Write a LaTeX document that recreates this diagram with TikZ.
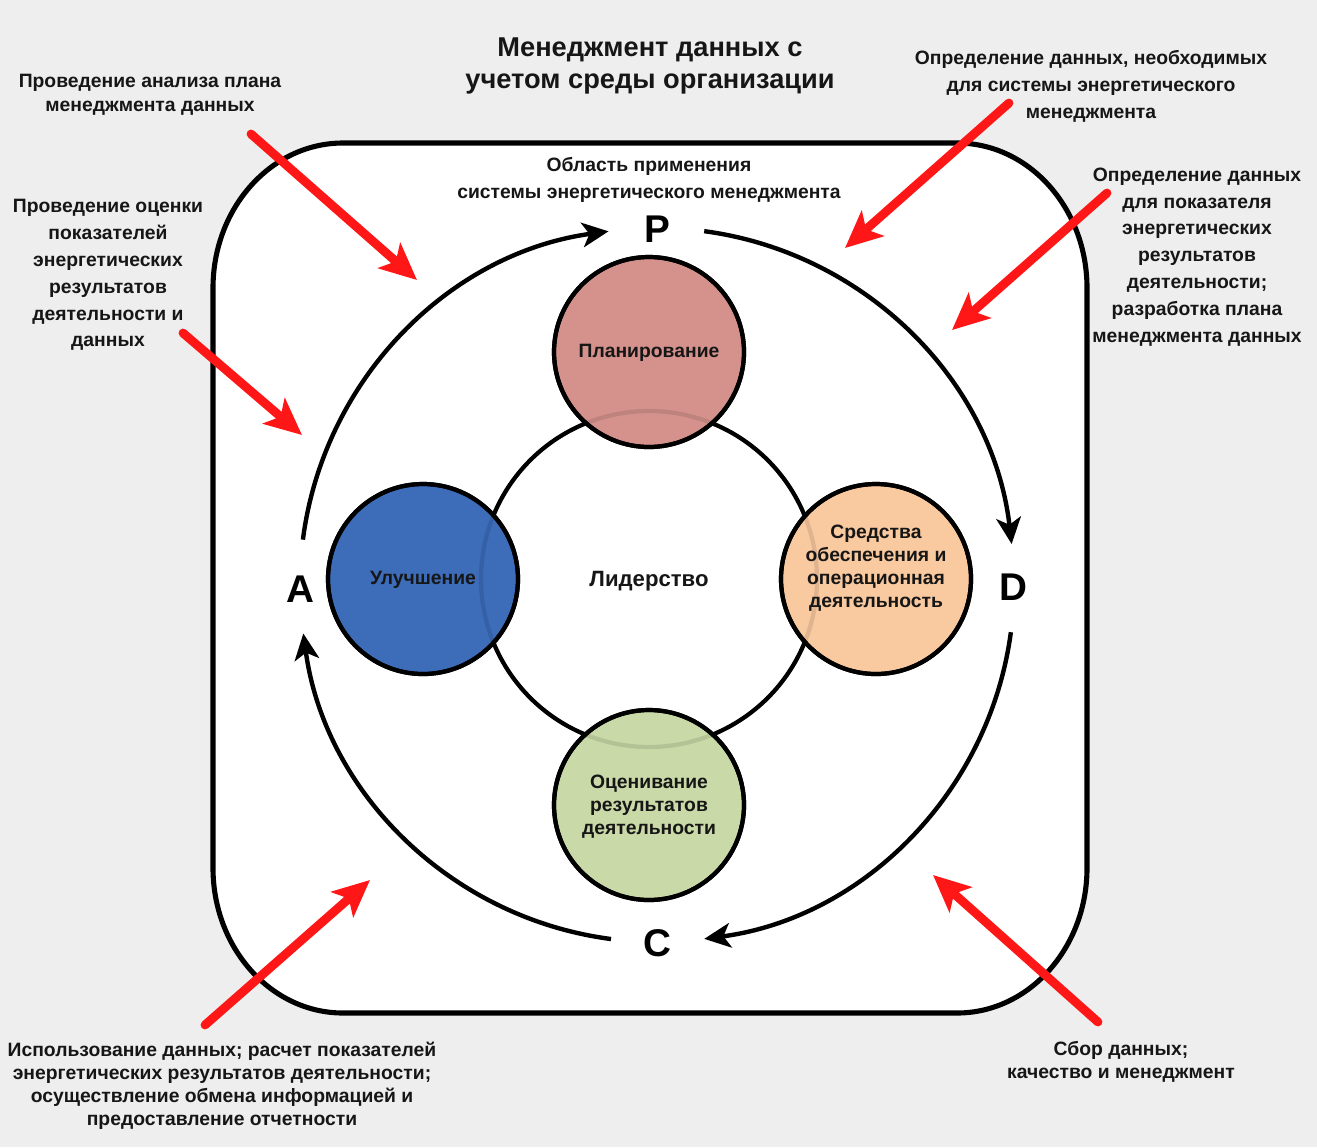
\documentclass[tikz,border=0pt]{standalone}
\usepackage{fontspec}
\setmainfont{Liberation Sans}
\usetikzlibrary{arrows.meta}
\definecolor{bg}{RGB}{238,238,238}
\definecolor{planc}{RGB}{213,146,140}
\definecolor{imprc}{RGB}{61,108,185}
\definecolor{sredc}{RGB}{249,201,160}
\definecolor{ocenc}{RGB}{201,217,167}
\definecolor{ared}{RGB}{255,22,22}
\definecolor{ink}{RGB}{22,22,22}
\begin{document}
\begin{tikzpicture}[x=0.02cm,y=-0.02cm,
  lbl/.style={font=\bfseries\fontsize{11}{15.3}\selectfont, align=center, text=ink, inner sep=0pt},
  lbltight/.style={font=\bfseries\fontsize{11}{13.6}\selectfont, align=center, text=ink, inner sep=0pt},
  lblc/.style={font=\bfseries\fontsize{11}{13.1}\selectfont, align=center, text=ink, inner sep=0pt},
  ttl/.style={font=\bfseries\fontsize{15.5}{18.7}\selectfont, align=center, text=ink, inner sep=0pt},
  pdca/.style={font=\bfseries\fontsize{22}{24}\selectfont, text=black, inner sep=0pt},
  sat/.style={circle, draw=black, line width=2.4pt, minimum size=190*0.02cm, inner sep=0pt},
  cyc/.style={draw=black, line width=2.5pt, -{Stealth[length=15pt,width=14pt,inset=4pt]}},
  redarr/.style={draw=ared, line width=5pt, line cap=round, -{Stealth[length=21pt,width=19pt,inset=5pt]}}
]
\useasboundingbox (0,0) rectangle (1317,1147);
\fill[bg] (0,0) rectangle (1317,1147);

% main rounded frame
\draw[line width=2.9pt, fill=white] (343,143) -- (957,143)
  arc[start angle=-90, end angle=0, x radius=130, y radius=145] -- (1087,868)
  arc[start angle=0, end angle=90, x radius=130, y radius=145] -- (343,1013)
  arc[start angle=90, end angle=180, x radius=130, y radius=145] -- (213,288)
  arc[start angle=180, end angle=270, x radius=130, y radius=145] -- cycle;

% title and scope
\node[ttl] (title) at (650,66) {Менеджмент данных с\\учетом среды организации};
\node[lbl] (scope) at (649,179.5) {Область применения\\системы энергетического менеджмента};

% PDCA letters
\node[pdca] (P) at (657,229) {P};
\node[pdca] (D) at (1013,587) {D};
\node[pdca] (C) at (657,943) {C};
\node[pdca] (A) at (300,589) {A};

% cycle arcs
\coordinate (O) at (657,585);
\draw[cyc] ([shift={(-172.7:357)}]O) arc[start angle=-172.7, end angle=-97.8, radius=357];
\draw[cyc] ([shift={(-82.4:357)}]O) arc[start angle=-82.4, end angle=-6.6, radius=357];
\draw[cyc] ([shift={(7.6:357)}]O) arc[start angle=7.6, end angle=82.4, radius=357];
\draw[cyc] ([shift={(97.4:357)}]O) arc[start angle=97.4, end angle=172.2, radius=357];

% inner circle
\node[circle, draw=black, line width=2.4pt, minimum size=336*0.02cm, inner sep=0pt] (lead) at (649,579) {};

% satellites
\node[sat, fill=planc] (plan) at (649,352) {};
\node[sat, fill=imprc] (impr) at (423,579) {};
\node[sat, fill=sredc] (sred) at (876,579) {};
\node[sat, fill=ocenc] (ocen) at (649,805) {};
% faint trace of the inner circle across the satellites
\draw[black, line width=2.4pt, draw opacity=0.10] (lead.center) circle[radius=168];
\draw[sat, fill=none] (plan.center) circle[radius=95];
\draw[sat, fill=none] (impr.center) circle[radius=95];
\draw[sat, fill=none] (sred.center) circle[radius=95];
\draw[sat, fill=none] (ocen.center) circle[radius=95];

\node[font=\bfseries\fontsize{12.6}{14}\selectfont, text=ink, inner sep=0pt] (leadt) at (649,581) {Лидерство};
\node[lblc] (plant) at (649,353) {Планирование};
\node[lblc] (imprt) at (423,580) {Улучшение};
\node[lblc] (sredt) at (876,568.5) {Средства\\обеспечения и\\операционная\\деятельность};
\node[lblc] (ocent) at (649,807) {Оценивание\\результатов\\деятельности};

% side labels
\node[lbltight] (tl) at (150,95) {Проведение анализа плана\\менеджмента данных};
\node[lbl] (lft) at (108,275) {Проведение оценки\\показателей\\энергетических\\результатов\\деятельности и\\данных};
\node[lbl] (tr) at (1091,86) {Определение данных, необходимых\\для системы энергетического\\менеджмента};
\node[lbl] (rgt) at (1197,257) {Определение данных\\для показателя\\энергетических\\результатов\\деятельности;\\разработка плана\\менеджмента данных};
\node[lblc] (bl) at (222,1086) {Использование данных; расчет показателей\\энергетических результатов деятельности;\\осуществление обмена информацией и\\предоставление отчетности};
\node[lblc] (br) at (1121,1062) {Сбор данных;\\качество и менеджмент};

% red arrows
\coordinate (r1s) at (251,134); \coordinate (r1e) at (417,280);
\coordinate (r2s) at (183,333); \coordinate (r2e) at (302,435);
\coordinate (r3s) at (1009,103); \coordinate (r3e) at (845,248);
\coordinate (r4s) at (1107,193); \coordinate (r4e) at (952,330);
\coordinate (r5s) at (205,1025); \coordinate (r5e) at (370,880);
\coordinate (r6s) at (1098,1022); \coordinate (r6e) at (933,875);
\draw[redarr] (r1s) -- (r1e);
\draw[redarr] (r2s) -- (r2e);
\draw[redarr] (r3s) -- (r3e);
\draw[redarr] (r4s) -- (r4e);
\draw[redarr] (r5s) -- (r5e);
\draw[redarr] (r6s) -- (r6e);
\end{tikzpicture}
\end{document}
